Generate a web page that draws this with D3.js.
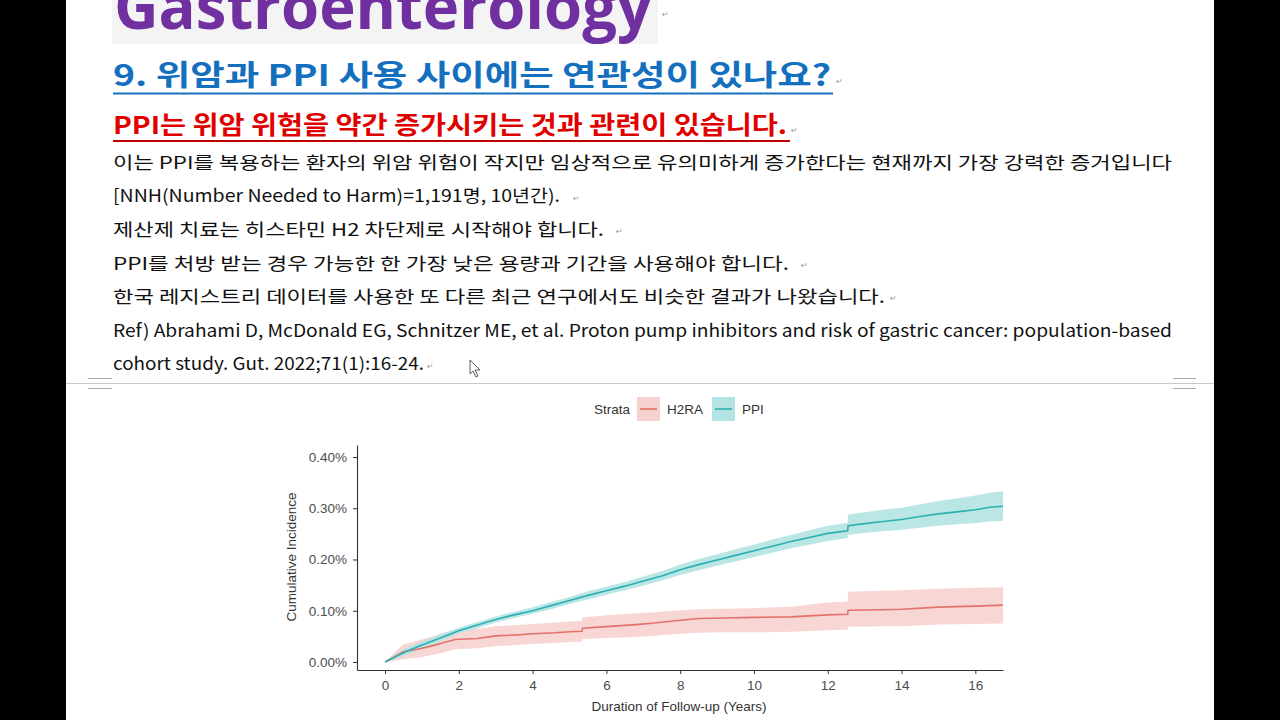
<!DOCTYPE html>
<html><head><meta charset="utf-8">
<script src="https://cdn.jsdelivr.net/npm/d3@7"></script>
<style>
html,body{margin:0;padding:0;background:#000;}
svg{display:block;}
</style></head>
<body>
<svg id="page" width="1280" height="720"></svg>
<script>
// ---------- data ----------
const xTicks = [0, 2, 4, 6, 8, 10, 12, 14, 16];
const yTicks = [0, 0.1, 0.2, 0.3, 0.4];           // percent
const seriesNames = ["H2RA", "PPI"];
const seriesColors = ["#e2726a", "#2cafb1"];
const bandColors = ["#f6d2ce", "#b3e3e3"];

const h2raTime = [0, 0.25, 0.5, 0.8, 1.0, 1.3, 1.5, 1.9, 2.5, 3.0, 3.6, 4.0, 4.6, 5.0, 5.34, 5.35, 6.0, 6.8, 7.3, 7.8, 8.5, 9.2, 10.0, 11.0, 12.0, 12.54, 12.55, 13.5, 14.0, 15.0, 16.0, 16.75];
const h2raEst  = [0, 0.010, 0.020, 0.024, 0.027, 0.032, 0.036, 0.044, 0.046, 0.051, 0.053, 0.055, 0.057, 0.059, 0.060, 0.066, 0.069, 0.073, 0.076, 0.080, 0.085, 0.086, 0.087, 0.088, 0.092, 0.093, 0.101, 0.102, 0.103, 0.107, 0.109, 0.111];
const h2raLow  = [0, 0.002, 0.006, 0.008, 0.010, 0.014, 0.017, 0.025, 0.027, 0.031, 0.033, 0.035, 0.037, 0.039, 0.040, 0.045, 0.047, 0.049, 0.051, 0.054, 0.057, 0.058, 0.058, 0.059, 0.062, 0.063, 0.069, 0.070, 0.070, 0.073, 0.074, 0.075];
const h2raUp   = [0, 0.018, 0.034, 0.040, 0.044, 0.050, 0.055, 0.063, 0.065, 0.070, 0.072, 0.074, 0.077, 0.079, 0.080, 0.087, 0.091, 0.095, 0.097, 0.100, 0.103, 0.104, 0.105, 0.108, 0.116, 0.118, 0.137, 0.139, 0.140, 0.143, 0.145, 0.146];

const ppiTime = [0, 0.25, 0.5, 0.75, 1.0, 1.5, 2.0, 2.5, 3.0, 3.5, 4.0, 4.5, 5.0, 5.5, 6.0, 6.5, 7.0, 7.5, 8.0, 8.5, 9.0, 9.5, 10.0, 10.5, 11.0, 11.5, 12.0, 12.54, 12.55, 13.0, 13.5, 14.0, 14.5, 15.0, 15.5, 16.0, 16.4, 16.75];
const ppiEst  = [0, 0.009, 0.018, 0.026, 0.033, 0.047, 0.061, 0.072, 0.083, 0.092, 0.100, 0.110, 0.120, 0.130, 0.139, 0.148, 0.158, 0.168, 0.180, 0.190, 0.199, 0.208, 0.217, 0.226, 0.235, 0.243, 0.251, 0.256, 0.266, 0.270, 0.274, 0.278, 0.284, 0.289, 0.293, 0.297, 0.302, 0.304];
const ppiLow  = [0, 0.005, 0.012, 0.019, 0.026, 0.040, 0.056, 0.066, 0.077, 0.086, 0.094, 0.103, 0.113, 0.122, 0.131, 0.140, 0.149, 0.159, 0.170, 0.179, 0.188, 0.196, 0.205, 0.213, 0.222, 0.229, 0.236, 0.242, 0.248, 0.252, 0.255, 0.258, 0.262, 0.266, 0.269, 0.271, 0.274, 0.275];
const ppiUp   = [0, 0.013, 0.024, 0.033, 0.040, 0.054, 0.067, 0.078, 0.089, 0.098, 0.107, 0.117, 0.127, 0.138, 0.147, 0.156, 0.167, 0.177, 0.190, 0.201, 0.210, 0.220, 0.229, 0.239, 0.248, 0.257, 0.266, 0.271, 0.288, 0.292, 0.297, 0.301, 0.308, 0.314, 0.319, 0.325, 0.330, 0.333];

const docTitle = "Gastroenterology";
const heading = "9. 위암과 PPI 사용 사이에는 연관성이 있나요?";
const redLine = "PPI는 위암 위험을 약간 증가시키는 것과 관련이 있습니다.";
const bodyLines = [
  "이는 PPI를 복용하는 환자의 위암 위험이 작지만 임상적으로 유의미하게 증가한다는 현재까지 가장 강력한 증거입니다",
  "[NNH(Number Needed to Harm)=1,191명, 10년간).",
  "제산제 치료는 히스타민 H2 차단제로 시작해야 합니다.",
  "PPI를 처방 받는 경우 가능한 한 가장 낮은 용량과 기간을 사용해야 합니다.",
  "한국 레지스트리 데이터를 사용한 또 다른 최근 연구에서도 비슷한 결과가 나왔습니다.",
  "Ref) Abrahami D, McDonald EG, Schnitzer ME, et al. Proton pump inhibitors and risk of gastric cancer: population-based",
  "cohort study. Gut. 2022;71(1):16-24."
];
const xTitle = "Duration of Follow-up (Years)";
const yTitle = "Cumulative Incidence";
const legendTitle = "Strata";

// ---------- page ----------
const svg = d3.select("#page");
const KR = "'Noto Sans CJK KR', 'Noto Sans', sans-serif";
const AR = "'Liberation Sans', Arial, sans-serif";

svg.append("rect").attr("x", 66).attr("y", 0).attr("width", 1148).attr("height", 720).attr("fill", "#fff");

// title box
svg.append("rect").attr("x", 112).attr("y", 0).attr("width", 546).attr("height", 44).attr("fill", "#f4f4f4");
svg.append("text").attr("x", 114).attr("y", 29).attr("font-family", "'Open Sans', " + AR)
  .attr("font-weight", "bold").attr("font-size", 62).attr("fill", "#7030a0")
  .attr("textLength", 538).attr("lengthAdjust", "spacingAndGlyphs").text(docTitle);

// paragraph marks
const marks = [[662, 17], [836, 84], [791, 133], [573, 201], [616, 234], [801, 268], [890, 301], [427, 369]];
svg.selectAll("text.pm").data(marks).join("text").attr("class", "pm")
  .attr("x", d => d[0]).attr("y", d => d[1]).attr("font-size", 8).attr("fill", "#999")
  .attr("font-family", "'DejaVu Sans', sans-serif").text("↵");

// heading
svg.append("text").attr("x", 113).attr("y", 86).attr("font-family", KR).attr("font-weight", "bold")
  .attr("font-size", 29).attr("fill", "#1470be").attr("textLength", 718).attr("lengthAdjust", "spacingAndGlyphs").text(heading);
svg.append("line").attr("x1", 113).attr("x2", 833).attr("y1", 93.5).attr("y2", 93.5).attr("stroke", "#1470be").attr("stroke-width", 2);

svg.append("text").attr("x", 113).attr("y", 134).attr("font-family", KR).attr("font-weight", "bold")
  .attr("font-size", 24.5).attr("fill", "#e00000").attr("textLength", 674).attr("lengthAdjust", "spacingAndGlyphs").text(redLine);
svg.append("line").attr("x1", 113).attr("x2", 790).attr("y1", 141).attr("y2", 141).attr("stroke", "#c00000").attr("stroke-width", 2);

const lineY = [169, 202, 236, 270, 303, 337, 370];
const lineW = [1059, 447, 491, 676, 772, 1059, 311];
svg.selectAll("text.body").data(bodyLines).join("text").attr("class", "body")
  .attr("x", 113).attr("y", (d, i) => lineY[i]).attr("font-family", KR).attr("font-size", 17.5).attr("fill", "#111")
  .attr("textLength", (d, i) => lineW[i]).attr("lengthAdjust", "spacingAndGlyphs").text(d => d);

// mouse cursor
svg.append("path").attr("d", "M470,360 L470,374 L473,371 L476,377 L478,376 L475,370 L480,370 Z")
  .attr("fill", "#fff").attr("stroke", "#333").attr("stroke-width", 0.8);

// separator
svg.append("line").attr("x1", 66).attr("x2", 1214).attr("y1", 383.5).attr("y2", 383.5).attr("stroke", "#c8c8c8");
const brk = svg.append("g").attr("stroke", "#aaa").attr("fill", "none");
brk.append("path").attr("d", "M88,378.5 H112 M88,388.5 H112");
brk.append("path").attr("d", "M1173,378.5 H1196 M1173,388.5 H1196");

// ---------- chart ----------
const x = d3.scaleLinear().domain([-0.76, 16.75]).range([357, 1003]);
const y = d3.scaleLinear().domain([-0.0156, 0.4234]).range([670, 445]);

const series = [
  {name: seriesNames[0], t: h2raTime, e: h2raEst, lo: h2raLow, hi: h2raUp},
  {name: seriesNames[1], t: ppiTime, e: ppiEst, lo: ppiLow, hi: ppiUp}
];

const area = d3.area().curve(d3.curveLinear).x(d => x(d.t)).y0(d => y(d.lo)).y1(d => y(d.hi));
const line = d3.line().curve(d3.curveLinear).x(d => x(d.t)).y(d => y(d.e));
const pts = s => s.t.map((t, i) => ({t, e: s.e[i], lo: s.lo[i], hi: s.hi[i]}));

const plot = svg.append("g");
series.forEach((s, i) => {
  plot.append("path").attr("d", area(pts(s))).attr("fill", bandColors[i]).attr("opacity", 0.9);
});
series.forEach((s, i) => {
  plot.append("path").attr("d", line(pts(s))).attr("fill", "none").attr("stroke", seriesColors[i]).attr("stroke-width", 1.6);
});

const fmt = v => d3.format(".2f")(v) + "%";
const xAxis = svg.append("g").attr("transform", "translate(0,670)")
  .call(d3.axisBottom(x).tickValues(xTicks).tickSize(4).tickSizeOuter(0).tickPadding(6));
const yAxis = svg.append("g").attr("transform", "translate(357,0)")
  .call(d3.axisLeft(y).tickValues(yTicks).tickFormat(fmt).tickSize(4).tickSizeOuter(0).tickPadding(6));
[xAxis, yAxis].forEach(g => {
  g.select(".domain").attr("stroke", "#333").attr("stroke-width", 1.1);
  g.selectAll(".tick line").attr("stroke", "#333");
  g.selectAll(".tick text").attr("fill", "#4d4d4d").attr("font-family", AR).attr("font-size", 13.5);
});

svg.append("text").attr("x", 679).attr("y", 711).attr("text-anchor", "middle").attr("font-family", AR)
  .attr("font-size", 13.5).attr("fill", "#333").text(xTitle);
svg.append("text").attr("transform", "translate(296,557) rotate(-90)").attr("text-anchor", "middle")
  .attr("font-family", AR).attr("font-size", 13.5).attr("fill", "#333").text(yTitle);

// legend
const lg = svg.append("g");
lg.append("text").attr("x", 594).attr("y", 414).attr("font-family", AR).attr("font-size", 13.5).attr("fill", "#333").text(legendTitle);
const keyX = [637, 712];
series.forEach((s, i) => {
  lg.append("rect").attr("x", keyX[i]).attr("y", 397).attr("width", 23).attr("height", 24).attr("fill", bandColors[i]);
  lg.append("line").attr("x1", keyX[i] + 3).attr("x2", keyX[i] + 20).attr("y1", 409).attr("y2", 409)
    .attr("stroke", seriesColors[i]).attr("stroke-width", 1.6);
  lg.append("text").attr("x", keyX[i] + 30).attr("y", 414).attr("font-family", AR).attr("font-size", 13.5)
    .attr("fill", "#333").text(s.name);
});
</script>
</body></html>
